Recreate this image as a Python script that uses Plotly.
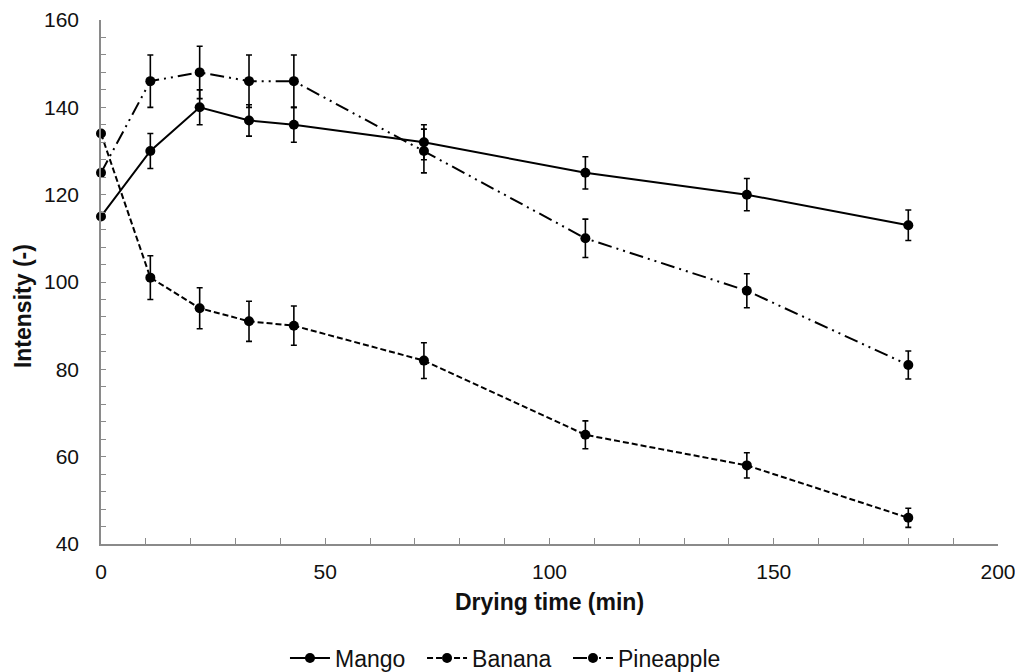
import plotly.graph_objects as go

time_min = [0, 11, 22, 33, 43, 72, 108, 144, 180]

mango = [115, 130, 140, 137, 136, 132, 125, 120, 113]
mango_err = [0, 4, 4, 3.6, 4, 4, 3.7, 3.7, 3.5]

banana = [134, 101, 94, 91, 90, 82, 65, 58, 46]
banana_err = [0, 5, 4.7, 4.6, 4.5, 4.1, 3.2, 2.9, 2.2]

pineapple = [125, 146, 148, 146, 146, 130, 110, 98, 81]
pineapple_err = [0, 6, 6, 6, 6, 5, 4.4, 3.9, 3.2]

series = [
    ("Mango", mango, mango_err, "solid", "legend", 0.2051),
    ("Banana", banana, banana_err, "6px,3px", "legend2", 0.3579),
    ("Pineapple", pineapple, pineapple_err, "14px,5px,2px,5px,2px,5px", "legend3", 0.5206),
]

FONT = "Liberation Sans, Arial, sans-serif"
TXT = "#111111"
AX = "#8a8a8a"

fig = go.Figure()
legends = {}
for name, vals, errs, dash, leg, lx in series:
    fig.add_trace(go.Scatter(
        x=time_min, y=vals, name=name, mode="lines+markers",
        line=dict(color="black", width=2, dash=dash),
        marker=dict(symbol="circle", size=10, color="black"),
        error_y=dict(type="data", array=errs, visible=True,
                     color="black", thickness=1.6, width=3),
        cliponaxis=False,
        legend=leg,
    ))
    legends[leg] = dict(orientation="h", x=lx, xanchor="left", y=-0.2176, yanchor="middle",
                        font=dict(family=FONT, size=23, color=TXT),
                        itemwidth=40, bgcolor="rgba(0,0,0,0)")

tick_font = dict(family=FONT, size=21, color=TXT)

# the page body adds an 8px offset; the figure is a bit taller than the window
# so the legend is not squeezed (overflow is outside the viewport)
fig.update_layout(
    width=1015, height=690,
    margin=dict(l=93, r=25, t=12, b=154),
    paper_bgcolor="white", plot_bgcolor="white",
    font=dict(family=FONT, size=21, color=TXT),
    showlegend=True,
    **legends,
    xaxis=dict(
        range=[0, 200], dtick=50, tick0=0, automargin=False,
        showgrid=False, zeroline=False,
        showline=True, linecolor=AX, linewidth=1.5,
        ticks="inside", ticklen=6, tickcolor=AX, ticklabelstandoff=8,
        minor=dict(dtick=10, ticks="inside", ticklen=6, tickcolor=AX, showgrid=False),
        title=dict(text="<b>Drying time (min)</b>", standoff=12,
                   font=dict(family=FONT, size=23, color=TXT)),
        tickfont=tick_font,
    ),
    yaxis=dict(
        range=[40, 160], dtick=20, tick0=40, automargin=False,
        showgrid=False, zeroline=False,
        showline=True, linecolor=AX, linewidth=1.5,
        ticks="inside", ticklen=5, tickcolor=AX, ticklabelstandoff=16,
        minor=dict(dtick=4, ticks="inside", ticklen=5, tickcolor=AX, showgrid=False),
        tickfont=tick_font,
    ),
    annotations=[dict(
        text="<b>Intensity (-)</b>", textangle=-90, showarrow=False,
        xref="paper", yref="paper", x=-0.087, y=0.454,
        xanchor="center", yanchor="middle",
        font=dict(family=FONT, size=23, color=TXT),
    )],
)

fig.write_html("out.html")
